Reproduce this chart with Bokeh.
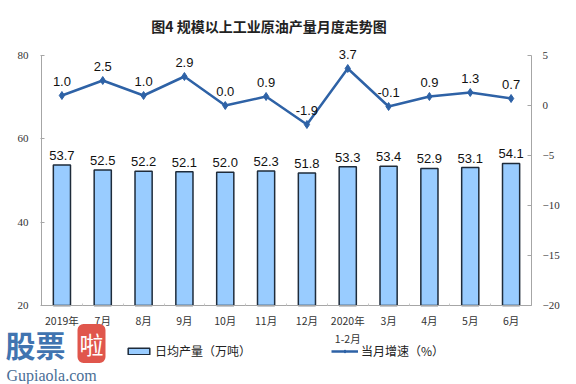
from bokeh.plotting import figure
from bokeh.models import (Range1d, LinearAxis, ColumnDataSource, LabelSet, Label,
                          Legend, LegendItem, FixedTicker)
from bokeh.core.properties import value
from bokeh.embed import file_html
from bokeh.resources import INLINE

months = ["2019年", "7月", "8月", "9月", "10月", "11月", "12月", "2020年\n1-2月",
          "3月", "4月", "5月", "6月"]
output = [53.7, 52.5, 52.2, 52.1, 52.0, 52.3, 51.8, 53.3, 53.4, 52.9, 53.1, 54.1]
growth = [1.0, 2.5, 1.0, 2.9, 0.0, 0.9, -1.9, 3.7, -0.1, 0.9, 1.3, 0.7]
left_ticks = [20, 40, 60, 80]
right_ticks = [-20, -15, -10, -5, 0, 5]

title_text = "图4  规模以上工业原油产量月度走势图"
bar_name = "日均产量（万吨）"
line_name = "当月增速（%）"
wm_main = "股票"
wm_red = "啦"
wm_url = "Gupiaola.com"

# ---- layout (pixels on the canvas) ----
W, H = 576, 384
PL, PR, PT, PB = 41, 531, 55, 305          # plot-area box inside the canvas
n = len(months)
ppx = (PR - PL) / n                         # px per category
L_LO, L_HI = left_ticks[0], left_ticks[-1]
R_LO, R_HI = right_ticks[0], right_ticks[-1]
lpu = (PB - PT) / (L_HI - L_LO)
rpu = (PB - PT) / (R_HI - R_LO)

xs = [i + 0.5 for i in range(n)]
src = ColumnDataSource(dict(
    x=xs, out=output, g=growth,
    out_lbl=[f"{v:.1f}" for v in output],
    g_lbl=[f"{v:.1f}" for v in growth],
    base=[L_LO] * n,
))

p = figure(width=W, height=H,
           x_range=Range1d(-PL / ppx, n + (W - PR) / ppx),
           y_range=Range1d(L_LO - (H - PB) / lpu, L_HI + PT / lpu),
           output_backend="svg", toolbar_location=None, title=None,
           min_border_left=0, min_border_right=0, min_border_top=0, min_border_bottom=0,
           x_axis_type=None, y_axis_type=None)
p.outline_line_color = None
p.extra_y_ranges = {"g": Range1d(R_LO - (H - PB) / rpu, R_HI + PT / rpu)}

SERIF = "Liberation Serif"
SANS = "Liberation Sans"
CJK = "Noto Sans CJK SC"
axis_col = "#A6A6A6"
lab_col = "#333333"

ya = LinearAxis(ticker=FixedTicker(ticks=left_ticks), fixed_location=0,
                bounds=(L_LO, L_HI))
ya.axis_line_color = axis_col
ya.major_tick_line_color = axis_col
ya.major_tick_out = 1
ya.major_tick_in = 3
ya.minor_tick_line_color = None
ya.major_label_standoff = 12
ya.major_label_text_font = SERIF
ya.major_label_text_font_size = "11px"
ya.major_label_text_color = lab_col
p.add_layout(ya, "left")

ra = LinearAxis(y_range_name="g", ticker=FixedTicker(ticks=right_ticks), fixed_location=n,
                bounds=(R_LO, R_HI))
ra.axis_line_color = axis_col
ra.major_tick_line_color = axis_col
ra.major_tick_out = 0
ra.major_tick_in = 4
ra.minor_tick_line_color = None
ra.major_label_standoff = 11
ra.major_label_text_font = SERIF
ra.major_label_text_font_size = "11px"
ra.major_label_text_color = lab_col
p.add_layout(ra, "right")

xa = LinearAxis(ticker=FixedTicker(ticks=xs, minor_ticks=list(range(n + 1))),
                fixed_location=L_LO, bounds=(0, n),
                major_label_overrides={x: m for x, m in zip(xs, months)})
xa.axis_line_color = axis_col
xa.major_tick_line_color = None
xa.minor_tick_line_color = "#C8C8C8"
xa.minor_tick_in = 2
xa.minor_tick_out = 0
xa.major_label_text_font = CJK
xa.major_label_text_font_size = "10.5px"
xa.major_label_text_color = lab_col
xa.major_label_standoff = 1
p.add_layout(xa, "below")

bars = p.vbar(x="x", top="out", bottom="base", width=0.42, source=src,
              fill_color="#99CCFF", line_color="#1E2B3A", line_width=1.5)
line = p.line(x="x", y="g", source=src, y_range_name="g",
              line_color="#2E62A6", line_width=2.5)
pts = p.scatter(x="x", y="g", source=src, y_range_name="g", marker="diamond",
                size=8, fill_color="#2E62A6", line_color="#2E62A6")

p.add_layout(LabelSet(x="x", y="out", text="out_lbl", source=src, text_align="center",
                      text_baseline="bottom", y_offset=5, text_font=value(SANS),
                      text_font_size="13px", text_color="#111111"))
p.add_layout(LabelSet(x="x", y="g", text="g_lbl", source=src, y_range_name="g",
                      text_align="center", text_baseline="bottom", y_offset=10,
                      text_font=value(SANS), text_font_size="13px", text_color="#111111"))

legend = Legend(items=[LegendItem(label=bar_name, renderers=[bars]),
                       LegendItem(label=line_name, renderers=[line, pts])],
                orientation="horizontal", spacing=80, glyph_width=27, glyph_height=8,
                label_text_font=CJK, label_text_font_size="12px", label_text_color="#222222",
                border_line_color=None, background_fill_alpha=0, padding=0, margin=0,
                label_standoff=3, location=(125, 25))
p.add_layout(legend)

p.add_layout(Label(x=270, y=359, x_units="screen", y_units="screen", text=title_text,
                   text_align="center", text_baseline="middle", text_font=CJK,
                   text_font_size="14px", text_font_style="bold", text_color="#222222"))

# watermark
p.add_layout(Label(x=5, y=41, x_units="screen", y_units="screen", text=wm_main,
                   text_baseline="middle", text_font=CJK, text_font_size="30px",
                   text_font_style="bold", text_color="#4174B0"))
p.add_layout(Label(x=91, y=41, x_units="screen", y_units="screen", text=wm_red,
                   text_align="center", text_baseline="middle", text_font=CJK,
                   text_font_size="24px", text_color="white",
                   background_fill_color="#E0564C", border_line_color=None,
                   padding=2, border_radius=6))
p.add_layout(Label(x=6, y=9, x_units="screen", y_units="screen", text=wm_url,
                   text_baseline="alphabetic", text_font=SERIF, text_font_size="16px",
                   text_color="#4A6E96"))

open("out.html", "w").write(file_html(p, INLINE))
